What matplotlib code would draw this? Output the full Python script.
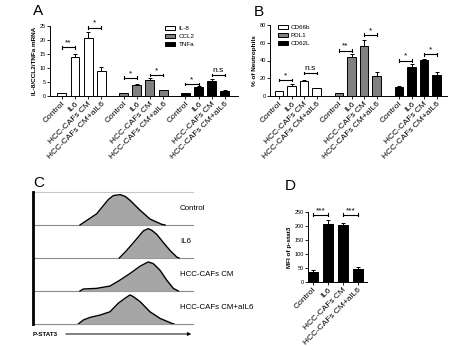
import matplotlib
matplotlib.use("Agg")
import matplotlib.pyplot as plt
import numpy as np

plt.rcParams['font.family'] = ['Liberation Sans', 'DejaVu Sans']

# ---------------- data ----------------
conditions = ["Control", "IL6", "HCC-CAFs CM", "HCC-CAFs CM+aIL6"]

a_series = ["IL-8", "CCL2", "TNFa"]
a_il8 = [1.0, 14.0, 20.8, 8.9]
a_il8_err = [0.1, 1.0, 2.0, 1.3]
a_ccl2 = [1.0, 3.9, 5.7, 2.0]
a_ccl2_err = [0.1, 0.3, 0.7, 0.2]
a_tnfa = [1.0, 3.2, 5.3, 1.8]
a_tnfa_err = [0.1, 0.4, 0.6, 0.2]
a_sig = [[(0, 1, "**", 17.4), (2, 3, "*", 24.4)],
         [(0, 1, "*", 6.5), (2, 3, "*", 7.5)],
         [(0, 1, "*", 4.3), (2, 3, "n.s", 7.5)]]

b_series = ["CD66b", "PDL1", "CD62L"]
b_cd66b = [5.5, 11.5, 17.0, 8.5]
b_cd66b_err = [0.5, 1.5, 0.8, 0.5]
b_pdl1 = [3.0, 44.0, 56.0, 23.0]
b_pdl1_err = [0.4, 3.0, 7.0, 4.0]
b_cd62l = [10.5, 33.0, 40.5, 24.0]
b_cd62l_err = [0.5, 3.0, 0.8, 2.5]
b_sig = [[(0, 1, "*", 18), (2, 3, "n.s", 26)],
         [(0, 1, "**", 51), (2, 3, "*", 69)],
         [(0, 1, "*", 40), (2, 3, "*", 47)]]

d_values = [37, 207, 202, 48]
d_err = [6, 13, 8, 6]
d_sig = [(0, 1, "***", 240), (2, 3, "***", 240)]

hist_labels = ["Control", "IL6", "HCC-CAFs CM", "HCC-CAFs CM+aIL6"]
h_control_x = [47, 63.7, 75.3, 80.3, 87, 92, 97, 107, 117, 128.7, 132]
h_control_y = [0, 0.34, 0.77, 0.89, 0.92, 0.87, 0.75, 0.45, 0.18, 0.02, 0]
h_il6_x = [86.3, 93.7, 103.7, 110.3, 115.3, 118.7, 123.7, 130.3, 137, 143.7, 146]
h_il6_y = [0, 0.23, 0.58, 0.82, 0.89, 0.84, 0.72, 0.47, 0.23, 0.03, 0]
h_cm_x = [47, 50.3, 63.7, 77, 87, 97, 107, 112, 115.3, 120.3, 127, 133.7, 140.3, 145.3]
h_cm_y = [0, 0.06, 0.08, 0.15, 0.33, 0.53, 0.75, 0.83, 0.88, 0.83, 0.63, 0.33, 0.08, 0]
h_ail6_x = [45.3, 50.3, 57, 67, 77, 85.3, 92, 97, 100.3, 107, 117, 127, 138.7, 141]
h_ail6_y = [0, 0.12, 0.2, 0.27, 0.37, 0.63, 0.78, 0.88, 0.83, 0.68, 0.37, 0.17, 0.02, 0]

# ---------------- figure ----------------
W, H = 474, 346
fig = plt.figure(figsize=(W / 100, H / 100), dpi=100)

def px_axes(x0, y0, x1, y1):
    return fig.add_axes([x0 / W, 1 - y1 / H, (x1 - x0) / W, (y1 - y0) / H])

def style(ax):
    for s in ["top", "right"]:
        ax.spines[s].set_visible(False)
    for s in ["left", "bottom"]:
        ax.spines[s].set_linewidth(0.7)
    ax.tick_params(axis="both", length=2, width=0.6, labelsize=4, pad=1)

def bracket(ax, x1, x2, y, txt, dy, fs=6):
    ax.plot([x1, x2], [y, y], color="black", lw=0.8)
    ax.plot([x1, x1], [y - dy, y + dy], color="black", lw=0.8)
    ax.plot([x2, x2], [y - dy, y + dy], color="black", lw=0.8)
    ax.text((x1 + x2) / 2, y + dy * 0.6, txt, ha="center", va="bottom", fontsize=fs)

def grouped(ax, groups, errs, colors, sigs, spacing, ylim, dy):
    xt, xl = [], []
    bars = []
    for g, (vals, er, col) in enumerate(zip(groups, errs, colors)):
        xs = [g * spacing + i for i in range(4)]
        b = ax.bar(xs, vals, width=0.68, color=col, edgecolor="black", linewidth=0.7, zorder=2)
        bars.append(b)
        ax.errorbar(xs, vals, yerr=[[0] * 4, er], fmt="none", ecolor="black",
                    elinewidth=0.7, capsize=1.5, capthick=0.7, zorder=3)
        for (i, j, t, y) in sigs[g]:
            bracket(ax, xs[i], xs[j], y, t, dy)
        xt += xs
        xl += conditions
    ax.set_xticks(xt)
    ax.set_xticklabels(xl, rotation=45, ha="right", rotation_mode="anchor", fontsize=6)
    ax.set_ylim(*ylim)
    return bars

# ---- Panel A
axA = px_axes(50, 26, 238, 96)
style(axA)
bars = grouped(axA, [a_il8, a_ccl2, a_tnfa], [a_il8_err, a_ccl2_err, a_tnfa_err],
               ["white", "#808080", "black"], a_sig, 4.7, (0, 25), 0.5)
axA.set_xlim(-0.9, 13.4)
axA.set_yticks([0, 5, 10, 15, 20, 25])
axA.set_ylabel("IL-8/CCL2/TNFa mRNA", fontsize=4.6, labelpad=2, fontweight="bold")
axA.legend([b[0] for b in bars], a_series, loc="upper left", bbox_to_anchor=(0.6, 1.04),
           frameon=False, fontsize=4.5, handlelength=1.6, handleheight=0.7,
           labelspacing=0.45, handletextpad=0.5, borderaxespad=0)
fig.text(33 / W, 1 - 11 / H, "A", fontsize=11, va="center", ha="left")

# ---- Panel B
axB = px_axes(270, 25, 447, 96)
style(axB)
bars = grouped(axB, [b_cd66b, b_pdl1, b_cd62l], [b_cd66b_err, b_pdl1_err, b_cd62l_err],
               ["white", "#808080", "black"], b_sig, 4.8, (0, 80), 1.6)
axB.set_xlim(-0.72, 13.44)
axB.set_yticks([0, 20, 40, 60, 80])
axB.set_ylabel("% of Neutrophils", fontsize=4.6, labelpad=2, fontweight="bold")
axB.legend([b[0] for b in bars], b_series, loc="upper left", bbox_to_anchor=(0.03, 1.04),
           frameon=False, fontsize=4.5, handlelength=1.6, handleheight=0.7,
           labelspacing=0.45, handletextpad=0.5, borderaxespad=0)
fig.text(254 / W, 1 - 12 / H, "B", fontsize=11, va="center", ha="left")

# ---- Panel C
axC = px_axes(33, 192, 193, 324)
axC.set_xlim(0, 160)
axC.set_ylim(0, 4)
axC.axis("off")
hx = [h_control_x, h_il6_x, h_cm_x, h_ail6_x]
hy = [h_control_y, h_il6_y, h_cm_y, h_ail6_y]
for r in range(4):
    base = 3 - r
    xs = np.array(hx[r])
    ys = base + np.array(hy[r])
    axC.fill_between(xs, base, ys, color="#a6a6a6", lw=0, zorder=2)
    axC.plot(xs, ys, color="black", lw=1.0, zorder=3)
    axC.text(147, base + 0.5, hist_labels[r], fontsize=5.7, va="center", ha="left", clip_on=False)
for yl in [0, 1, 2, 3]:
    axC.plot([0, 160], [yl, yl], color="#8c8c8c", lw=0.8, zorder=1, clip_on=False)
axC.plot([0, 160], [4, 4], color="#c8c8c8", lw=0.8, zorder=1, clip_on=False)
axC.plot([0, 0], [0, 4], color="black", lw=2.0, zorder=4, clip_on=False)
fig.text(33 / W, 1 - 183 / H, "C", fontsize=11, va="center", ha="left")
fig.text(33 / W, 1 - 334 / H, "P-STAT3", fontsize=4.5, va="center", ha="left", fontweight="bold")
fig.add_artist(matplotlib.patches.FancyArrowPatch(
    (63 / W, 1 - 334 / H), (194 / W, 1 - 334 / H), transform=fig.transFigure,
    arrowstyle="-|>", mutation_scale=5, lw=0.7, color="black"))

# ---- Panel D
axD = px_axes(308, 212, 367, 282)
style(axD)
xs = list(range(4))
axD.bar(xs, d_values, width=0.68, color="black", edgecolor="black", linewidth=0.7, zorder=2)
axD.errorbar(xs, d_values, yerr=[[0] * 4, d_err], fmt="none", ecolor="black",
             elinewidth=0.7, capsize=1.5, capthick=0.7, zorder=3)
for (i, j, t, y) in d_sig:
    bracket(axD, xs[i], xs[j], y, t, 5)
axD.set_xlim(-0.33, 3.6)
axD.set_ylim(0, 250)
axD.set_yticks([0, 50, 100, 150, 200, 250])
axD.set_xticks(xs)
axD.set_xticklabels(conditions, rotation=45, ha="right", rotation_mode="anchor", fontsize=6)
axD.set_ylabel("MFI of p-stat3", fontsize=4.6, labelpad=2, fontweight="bold")
fig.text(285 / W, 1 - 186 / H, "D", fontsize=11, va="center", ha="left")

fig.savefig("out.png", dpi=100)
